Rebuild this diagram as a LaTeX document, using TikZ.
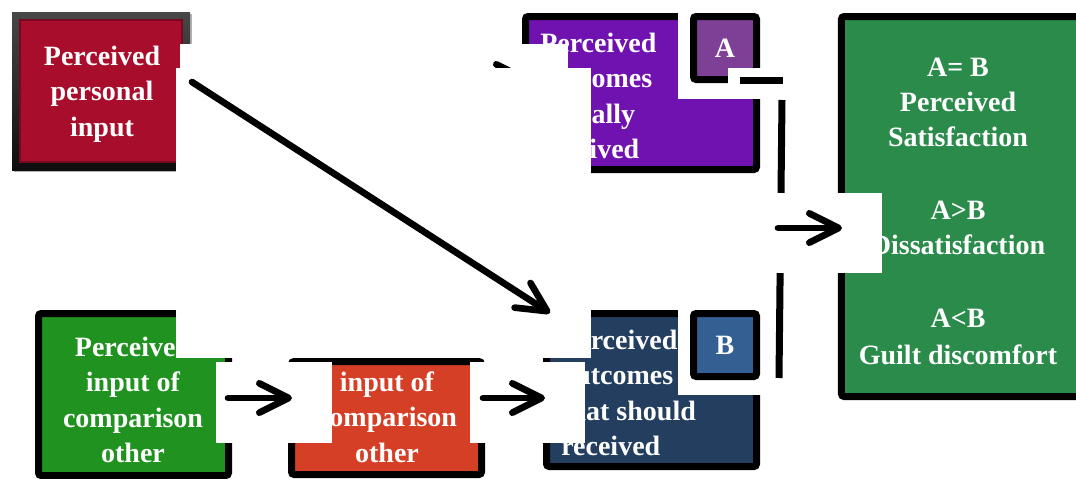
\documentclass[tikz,border=0pt]{standalone}
\usepackage{fontspec}
\setmainfont{Liberation Serif}
\usetikzlibrary{arrows.meta,shadows}

\definecolor{inputred}{HTML}{A80D2B}
\definecolor{actualpurple}{HTML}{6F12AF}
\definecolor{apurple}{HTML}{7E3F97}
\definecolor{resultgreen}{HTML}{2A8B4B}
\definecolor{othergreen}{HTML}{1F921F}
\definecolor{otherred}{HTML}{D43F26}
\definecolor{shouldnavy}{HTML}{243E5F}
\definecolor{bblue}{HTML}{345F93}

\begin{document}
\begin{tikzpicture}[x=0.75pt,y=-0.75pt,
  box/.style={draw=black, line width=5.25pt, rounded corners=2pt, inner sep=0pt,
    drop shadow={shadow xshift=1.5pt, shadow yshift=-1.5pt, opacity=0.3, fill=black}},
  txt/.style={text=white, font=\fontsize{21}{26.5}\selectfont\bfseries, inner sep=0pt},
  patch/.style={fill=white},
  flow/.style={line width=5pt, line cap=round, -{Straight Barb[length=22pt,width=22pt,round]}},
  bracket/.style={line width=5.25pt},
]
\useasboundingbox (0,0) rectangle (1076,479);
\clip (0,0) rectangle (1076,479);

% bevelled input box
\node[inner sep=0pt, minimum width=133.5pt, minimum height=118.5pt,
  top color=black!72, bottom color=black!95,
  drop shadow={shadow xshift=1.5pt, shadow yshift=-1.5pt, opacity=0.3, fill=black}]
  (personal) at (101,91) {};
\node[inner sep=0pt, minimum width=121.5pt, minimum height=106.5pt, fill=inputred,
  draw=inputred!70!black, line width=0.8pt] (personalfill) at (101,91) {};
\node[txt, align=center] (personaltxt) at (102,94) {Perceived\\personal\\input};

% upper outcome box
\node[box, fill=actualpurple, minimum width=173.25pt, minimum height=114.75pt] (actual) at (641,93) {};
\node[txt, align=left, anchor=west] (actualtxt) at (540,96) {Perceived\\outcomes\\actually\\received};

% lower row
\node[box, fill=othergreen, minimum width=142.5pt, minimum height=121.5pt] (otherin) at (133.5,394.5) {};
\node[txt, align=center] (otherintxt) at (133,400) {Perceived\\input of\\comparison\\other};

\node[box, fill=otherred, minimum width=142.5pt, minimum height=84.75pt] (otherout) at (386.5,418) {};
\node[txt, align=center] (otherouttxt) at (387,417) {input of\\comparison\\other};

\node[box, fill=shouldnavy, minimum width=157.5pt, minimum height=114.75pt] (should) at (651.5,390) {};
\node[txt, align=left, anchor=west] (shouldtxt) at (561,393) {Perceived\\outcomes\\that should\\received};

% result box
\node[box, fill=resultgreen, minimum width=186.4pt, minimum height=285pt] (result) at (965.75,206.5) {};
\node[txt, align=center] (resulttxt) at (958,211)
  {A= B\\Perceived\\Satisfaction\\[28pt]A>B\\Dissatisfaction\\[28pt]A<B\\[1pt]Guilt discomfort};

% blank panels laid over the boxes
\fill[patch] (180,44) rectangle (568,100);

\coordinate (hidfrom) at (190,79);
\coordinate (hidto) at (529,79);
\draw[flow] (hidfrom) -- (hidto);

\fill[patch] (176,68) rectangle (591,178);
\fill[patch] (176,280) rectangle (591,358);
\fill[patch] (216,362) rectangle (332,443);
\fill[patch] (470,362) rectangle (585,443);
\fill[patch] (678,0) rectangle (800,99);
\fill[patch] (678,280) rectangle (772,395);

% comparison tags
\node[box, fill=apurple, minimum width=47.25pt, minimum height=47.25pt, txt] (tagA) at (725,48) {A};
\node[box, fill=bblue, minimum width=47.25pt, minimum height=47.25pt, txt] (tagB) at (725,345) {B};

\fill[patch] (728,68) rectangle (790,92);

% bracket joining A and B
\coordinate (brA) at (740,80);
\coordinate (brAr) at (783,80);
\coordinate (brtop) at (782,100);
\coordinate (brbot) at (779,378);
\draw[bracket] (brA) -- (brAr);
\draw[bracket] (brtop) -- (brbot);

\fill[patch] (768,193) rectangle (882,273);

% arrows
\coordinate (dstart) at (192,82);
\coordinate (dend) at (550,313);
\draw[flow] (dstart) -- (dend);

\coordinate (b1s) at (228,398);
\coordinate (b1e) at (292,398);
\draw[flow] (b1s) -- (b1e);

\coordinate (b2s) at (483,398);
\coordinate (b2e) at (545,398);
\draw[flow] (b2s) -- (b2e);

\coordinate (rs) at (778,228);
\coordinate (re) at (842,228);
\draw[flow] (rs) -- (re);
\end{tikzpicture}
\end{document}
